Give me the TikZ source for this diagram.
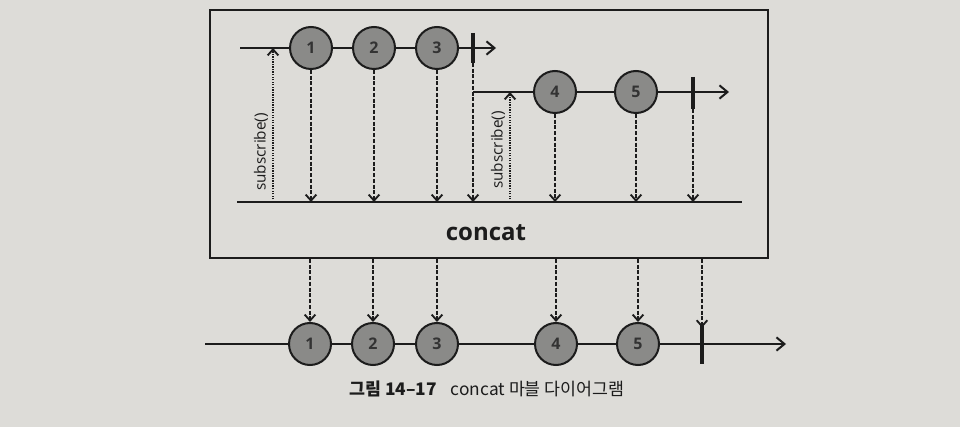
\documentclass[tikz,border=0pt]{standalone}
\usepackage{fontspec}
\setmainfont{Open Sans}
\newfontfamily\krfont{Noto Sans CJK KR}
\usetikzlibrary{arrows.meta}
\definecolor{paper}{HTML}{DDDCD8}
\definecolor{ballfill}{HTML}{8A8A88}
\definecolor{ink}{HTML}{1C1C1C}
\begin{document}
\begin{tikzpicture}[x=0.75pt,y=-0.75pt,
  marble/.style={circle, draw=ink, line width=1.5pt, fill=ballfill, minimum size=31.5pt, inner sep=0pt,
    font=\bfseries\fontsize{12}{12}\selectfont, text=ink!90},
  axis/.style={draw=ink, line width=1.5pt, -{Straight Barb[length=6pt,width=10pt,line width=1.5pt]}},
  axisline/.style={draw=ink, line width=1.5pt},
  emit/.style={draw=ink, dash pattern=on 3pt off 1.3pt, line width=1.3pt, -{Straight Barb[length=4.5pt,width=8pt,line width=1.4pt]}},
  subs/.style={draw=ink, dash pattern=on 1pt off 0.9pt, line width=1.2pt, -{Straight Barb[length=4.5pt,width=8pt,line width=1.4pt]}},
  termbar/.style={draw=ink, line width=2.3pt},
  lbl/.style={font=\fontsize{11.5}{11.5}\selectfont, text=ink, rotate=90, inner sep=0pt}
]
\fill[paper] (0,0) rectangle (960,427);
\useasboundingbox (0,0) rectangle (960,427);

% operator box
\node[draw=ink, line width=1.5pt, minimum width=418.5pt, minimum height=186pt, inner sep=0pt] (box) at (489,134) {};
\node[font=\bfseries\fontsize{18}{18}\selectfont, text=ink] (op) at (486,233) {concat};

% coordinates
\coordinate (s1a) at (240,48);
\coordinate (s1b) at (496,48);
\coordinate (t1a) at (473,33);
\coordinate (t1b) at (473,63);
\coordinate (s2a) at (473,92);
\coordinate (s2b) at (729,92);
\coordinate (t2a) at (693,77);
\coordinate (t2b) at (693,109);
\coordinate (ina) at (237,202);
\coordinate (inb) at (742,202);
\coordinate (outa) at (205,344);
\coordinate (outb) at (786,344);
\coordinate (t3a) at (702,325);
\coordinate (t3b) at (702,364);
\coordinate (sub1) at (273,202);
\coordinate (sub2) at (510,202);

% stream lines
\draw[axis] (s1a) -- (s1b);
\draw[axis] (s2a) -- (s2b);
\draw[axisline] (ina) -- (inb);
\draw[axis] (outa) -- (outb);
\draw[termbar] (t1a) -- (t1b);
\draw[termbar] (t2a) -- (t2b);
\draw[termbar] (t3a) -- (t3b);

% upper marbles
\node[marble] (c1) at (311,48) {1};
\node[marble] (c2) at (374,48) {2};
\node[marble] (c3) at (437,48) {3};
\node[marble] (c4) at (555,92) {4};
\node[marble] (c5) at (636,92) {5};

% lower marbles
\node[marble] (d1) at (310,344) {1};
\node[marble] (d2) at (373,344) {2};
\node[marble] (d3) at (437,344) {3};
\node[marble] (d4) at (556,344) {4};
\node[marble] (d5) at (638,344) {5};

% subscribe arrows
\draw[subs] (sub1) -- (sub1 |- s1a);
\draw[subs] (sub2) -- (sub2 |- s2a);
\node[lbl] (l1) at (261,152) {subscribe()};
\node[lbl] (l2) at (498,150) {subscribe()};

% emissions into operator
\foreach \n in {c1,c2,c3,c4,c5}{
  \draw[emit] (\n.south) -- (\n |- ina);
}
\draw[emit] (t1b) -- (t1b |- ina);
\draw[emit] (t2b) -- (t2b |- ina);

% emissions out of operator
\foreach \n in {d1,d2,d3,d4,d5}{
  \draw[emit] (\n |- box.south) -- (\n.north);
}
\draw[emit] (t3a |- box.south) -- ([yshift=-2pt]t3a);

% caption
\node[font=\krfont\fontsize{13}{13}\selectfont, text=ink] (cap) at (487,389) {{\bfseries 그림 14–17}\hspace{0.8em}concat 마블 다이어그램};
\end{tikzpicture}
\end{document}
